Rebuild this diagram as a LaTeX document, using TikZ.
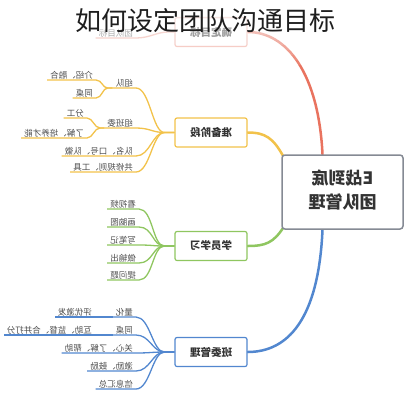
\documentclass[tikz,border=0pt]{standalone}
\usepackage{fontspec}
\setmainfont{Noto Sans CJK SC}
\usepackage{graphicx}
\definecolor{cred}{HTML}{E9735F}
\definecolor{cyel}{HTML}{F2C24A}
\definecolor{cgrn}{HTML}{8FC660}
\definecolor{cblu}{HTML}{5287CF}
\definecolor{cgray}{HTML}{858A94}
\definecolor{darkc}{HTML}{333333}
\definecolor{leafc}{HTML}{4D4D4D}
\definecolor{titlec}{HTML}{1E1E1E}
\newcommand\mirror[1]{\reflectbox{#1}}
\pgfdeclarelayer{background}
\pgfsetlayers{background,main}
\begin{document}
\begin{tikzpicture}[x=1pt,y=-1pt,
  leaf/.style={anchor=south east, inner xsep=3pt, inner ysep=1pt, font=\fontsize{8.5}{10}\selectfont, text=leafc},
  brbox/.style={draw, fill=white, rounded corners=2pt, line width=1.2pt, minimum width=72pt, minimum height=29pt, font=\fontsize{10.5}{12}\selectfont\bfseries, text=darkc},
  mainline/.style={line width=2.5pt, line cap=round},
  subline/.style={line width=1.3pt},
]
\useasboundingbox (0,0) rectangle (411,400);
% centre
\node[draw=cgray, line width=1.5pt, rounded corners=3pt, fill=white, minimum width=121pt, minimum height=74pt, text=darkc, font=\fontsize{17}{24}\selectfont\bfseries] (C) at (342.5,192) {\mirror{\begin{tabular}{@{}c@{}}E战到底\\团队管理\end{tabular}}};
% branch boxes
\node[brbox, draw=cred!55] (T) at (211,32) {\mirror{确定目标}};
\node[brbox, draw=cyel] (P) at (211,132.5) {\mirror{准备阶段}};
\node[brbox, draw=cgrn] (S) at (211,246) {\mirror{学员学习}};
\node[brbox, draw=cblu] (B) at (211,352) {\mirror{班委管理}};
% top leaf
\node[leaf] (tc) at (136,38) {\mirror{团队目标}};
% prep leaves
\node[leaf] (zd) at (136,88) {\mirror{组队}};
\node[leaf] (jr) at (96,80) {\mirror{介绍、融合}};
\node[leaf] (tza) at (96,98) {\mirror{同桌}};
\node[leaf] (zbw) at (136,128) {\mirror{组班委}};
\node[leaf] (fg) at (87,118) {\mirror{分工}};
\node[leaf] (lj) at (87,138) {\mirror{了解、培养才能}};
\node[leaf] (dm) at (136,156) {\mirror{队名、口号、队徽}};
\node[leaf] (gx) at (136,172) {\mirror{共修规则、工具}};
% study leaves
\node[leaf] (kv) at (139,209) {\mirror{看视频}};
\node[leaf] (hn) at (139,227) {\mirror{画脑图}};
\node[leaf] (xb) at (139,245) {\mirror{写笔记}};
\node[leaf] (zs) at (139,263) {\mirror{做输出}};
\node[leaf] (tw) at (139,280) {\mirror{提问题}};
% committee leaves
\node[leaf] (lh) at (136,317) {\mirror{量化}};
\node[leaf] (py) at (95,317) {\mirror{评优激发}};
\node[leaf] (tzb) at (136,335) {\mirror{同桌}};
\node[leaf] (hz) at (95,335) {\mirror{互助、监督、合并打分}};
\node[leaf] (gxl) at (136,353) {\mirror{关心、了解、帮助}};
\node[leaf] (jl) at (136,371) {\mirror{激励、鼓励}};
\node[leaf] (xx) at (136,389) {\mirror{信息汇总}};

\begin{pgfonlayer}{background}
% main branches
\draw[mainline, cred] ([xshift=-20pt]C.north) .. controls +(-4,-80) and +(40,0) .. (T.east);
\draw[mainline, cyel] ([shift={(2,2)}]C.north west) .. controls +(-10,-18) and +(18,0) .. (P.east);
\draw[mainline, cgrn] ([shift={(2,-2)}]C.south west) .. controls +(-10,15) and +(18,0) .. (S.east);
\draw[mainline, cblu] ([xshift=-20pt]C.south) .. controls +(-4,90) and +(40,0) .. (B.east);
% top
\draw[subline, cred!60] (T.west) -- ++(-6,0) .. controls +(-12,0) and +(14,0) .. (tc.south east) -- (tc.south west);
% prep
\foreach \n in {zd,zbw,dm,gx}
  \draw[subline, cyel] (P.west) -- ++(-10,0) .. controls +(-12,0) and +(14,0) .. (\n.south east) -- (\n.south west);
\foreach \n in {jr,tza}
  \draw[subline, cyel] (zd.south west) -- ++(-5,0) .. controls +(-5,0) and +(6,0) .. (\n.south east) -- (\n.south west);
\foreach \n in {fg,lj}
  \draw[subline, cyel] (zbw.south west) -- ++(-4,0) .. controls +(-6,0) and +(6,0) .. (\n.south east) -- (\n.south west);
% study
\foreach \n in {kv,hn,xb,zs,tw}
  \draw[subline, cgrn] (S.west) -- ++(-10,0) .. controls +(-12,0) and +(14,0) .. (\n.south east) -- (\n.south west);
% committee
\foreach \n in {lh,tzb,gxl,jl,xx}
  \draw[subline, cblu] (B.west) -- ++(-10,0) .. controls +(-12,0) and +(14,0) .. (\n.south east) -- (\n.south west);
\draw[subline, cblu] (lh.south west) -- (py.south east) -- (py.south west);
\draw[subline, cblu] (tzb.south west) -- (hz.south east) -- (hz.south west);
\end{pgfonlayer}

% fade at the top
\foreach \i in {0,...,9}
  \fill[white, opacity=0.11] (0,0) rectangle (411,20+5*\i);
% title
\node[font=\fontsize{26}{30}\selectfont, text=titlec, inner sep=0pt] (title) at (205,21) {如何设定团队沟通目标};
\end{tikzpicture}
\end{document}
